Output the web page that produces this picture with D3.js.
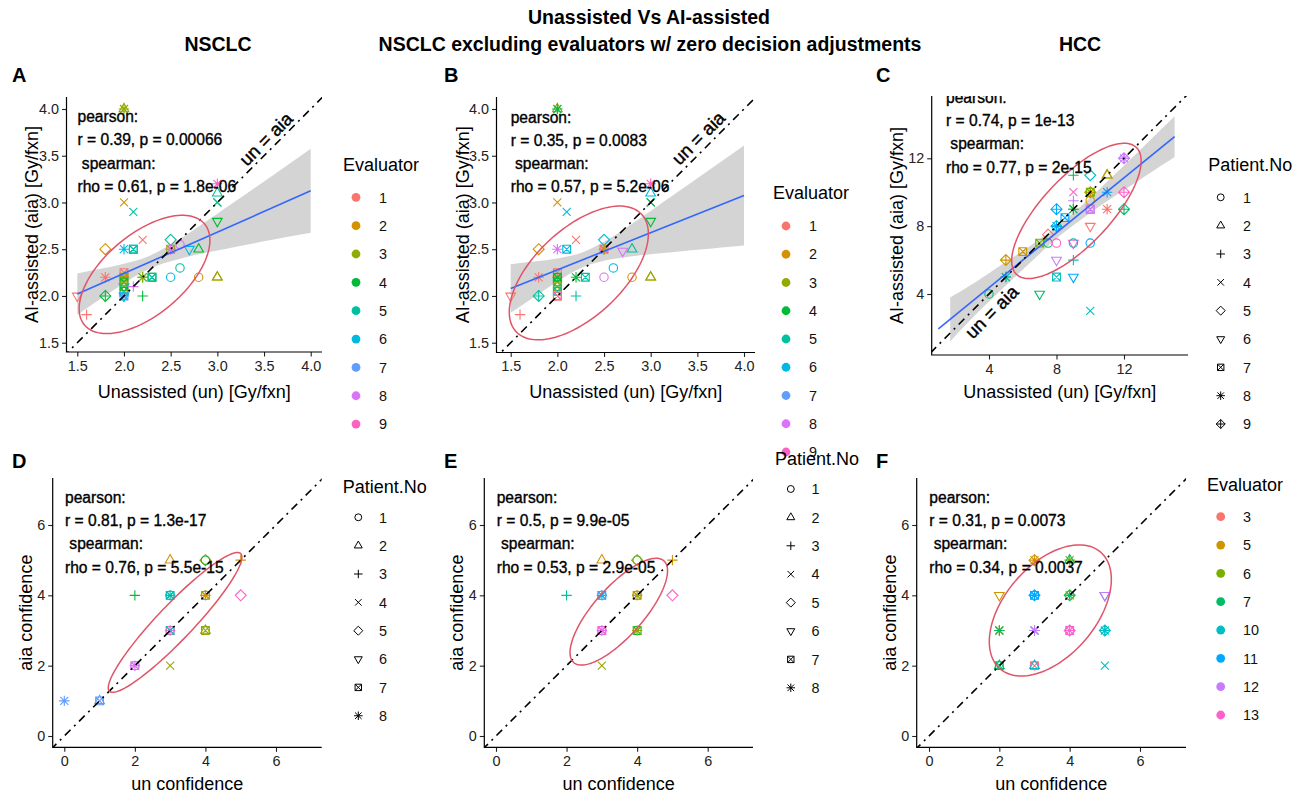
<!DOCTYPE html>
<html>
<head>
<meta charset="utf-8">
<script src="https://cdn.jsdelivr.net/npm/d3@7"></script>
<style>
  body { margin: 0; background: #fff; }
  svg text { font-family: "Liberation Sans", Arial, Helvetica, sans-serif; }
</style>
</head>
<body>
<svg id="chart" width="1298" height="794"></svg>
<script>
// ---- palettes (ggplot hue) ----
const hue9 = ["#F8766D", "#D39200", "#93AA00", "#00BA38", "#00C19F", "#00B9E3", "#619CFF", "#DB72FB", "#FF61C3"];
const hue8 = ["#F8766D", "#CD9600", "#7CAE00", "#00BE67", "#00BFC4", "#00A9FF", "#C77CFF", "#FF61CC"];

// ---- legend levels ----
const evaluatorsNsclc = ["1", "2", "3", "4", "5", "6", "7", "8", "9"];
const evaluatorsHcc = ["3", "5", "6", "7", "10", "11", "12", "13"];
const patientsNsclc = ["1", "2", "3", "4", "5", "6", "7", "8"];
const patientsHcc = ["1", "2", "3", "4", "5", "6", "7", "8", "9"];

// ---- tick values ----
const doseTicks = [1.5, 2.0, 2.5, 3.0, 3.5, 4.0];
const hccTicks = [4, 8, 12];
const confTicks = [0, 2, 4, 6];

// ---- points: [unassisted, AI-assisted, evaluator #, patient #] ----
const ptsA = [
  [2.0,4.0,3,2],[2.0,4.0,3,8],
  [3.0,3.2,9,8],[3.0,3.1,5,2],[3.0,3.0,4,4],[3.0,3.0,5,4],
  [2.0,3.0,2,4],[2.1,2.9,5,4],[3.0,2.8,4,6],[2.2,2.6,1,4],
  [1.8,2.5,2,5],[2.0,2.5,6,8],[2.1,2.5,6,7],[2.1,2.5,5,7],
  [2.5,2.6,5,5],[2.6,2.55,8,1],[2.5,2.5,2,8],[2.5,2.5,3,7],[2.5,2.5,8,8],
  [2.7,2.5,6,6],[2.8,2.5,4,2],[2.6,2.3,5,1],[2.5,2.2,6,1],[2.8,2.2,2,1],
  [3.0,2.2,2,2],[3.0,2.2,3,2],[1.8,2.2,1,8],
  [2.0,2.25,1,7],[2.0,2.2,3,7],[2.0,2.2,3,8],[2.0,2.15,4,7],[2.0,2.1,3,7],[2.0,2.1,5,6],
  [2.0,2.05,4,7],[2.0,2.0,7,8],[2.0,2.0,7,7],[2.0,2.0,6,6],
  [2.2,2.2,4,8],[2.2,2.2,3,8],[2.3,2.2,4,7],[2.3,2.2,5,7],
  [2.1,2.1,8,3],[2.2,2.0,4,3],[1.8,2.0,4,5],[1.8,2.0,4,3],[1.5,2.0,1,6],[1.6,1.8,1,3]
];
const ptsB = [
  [2.0,4.0,3,2],[2.0,4.0,4,8],
  [3.0,3.2,9,8],[3.0,3.1,6,2],[3.0,3.0,5,4],[3.0,3.0,4,4],
  [2.0,3.0,2,4],[2.1,2.9,6,4],[3.0,2.8,4,6],[2.2,2.6,1,4],
  [1.8,2.5,2,5],[2.0,2.5,8,8],[2.1,2.5,6,7],
  [2.5,2.6,6,5],[2.5,2.5,3,8],[2.5,2.5,9,7],[2.5,2.5,2,8],
  [2.7,2.48,8,6],[2.8,2.5,5,2],[2.6,2.3,6,1],[2.5,2.2,8,1],[2.8,2.2,2,1],
  [3.0,2.2,2,2],[3.0,2.2,3,2],[1.8,2.2,1,8],
  [2.0,2.25,1,7],[2.0,2.2,3,8],[2.0,2.2,4,7],[2.0,2.15,4,7],[2.0,2.1,3,7],[2.0,2.05,5,7],
  [2.0,2.0,2,7],[2.0,2.0,9,7],
  [2.2,2.2,4,8],[2.3,2.2,5,7],[2.2,2.0,5,3],[1.8,2.0,5,5],[1.8,2.0,5,3],[1.5,2.0,1,6],[1.6,1.8,1,3]
];
const ptsC = [
  [12,12,7,9],[12,12,7,8],[11,11,3,2],[11,11,2,2],[9,11,4,3],[10,11,5,5],
  [9,10,8,4],[9,9.5,7,3],[10,10,2,8],[10,10,2,9],[10,10,3,7],[10,9.5,2,1],
  [11,10,6,8],[12,10,8,9],[8,9,6,9],[9,9,3,8],[9,9,4,8],[10,9,8,7],[10,9,7,7],[11,9,1,8],[12,9,4,9],
  [8.5,8.5,6,7],[8,8,5,9],[8,8,6,8],[10,8,1,6],[7.5,7.5,1,5],[7,7,3,7],[7.5,7,4,1],[8,7,8,1],
  [9,7,8,6],[9,7,5,1],[10,7,6,1],
  [6,6.5,2,7],[8,6,7,6],[9,6,5,3],[5,6,2,9],[5,5,4,8],[5,5,5,8],[8,5,5,7],[9,5,6,6],
  [4,4,4,1],[7,4,4,6],[10,3,5,4]
];
const ptsD = [
  [3,5,2,2],[4,5,3,5],[4,5,4,1],[5,5,2,3],[2,4,4,3],
  [3,4,5,8],[3,4,5,7],[3,4,6,1],[4,4,2,8],[4,4,2,7],[4,4,3,1],[5,4,9,5],
  [3,3,8,8],[3,3,5,7],[3,3,9,1],[4,3,3,7],[4,3,3,2],
  [2,2,8,8],[2,2,8,7],[2,2,8,1],[3,2,3,4],[0,1,7,8],[1,1,7,2],[1,1,7,7]
];
const ptsE = [
  [3,5,2,2],[4,5,4,1],[4,5,3,5],[5,5,2,3],[2,4,5,3],
  [3,4,6,8],[3,4,6,7],[3,4,7,1],[4,4,2,8],[4,4,3,7],[4,4,2,1],[5,4,9,5],
  [3,3,8,8],[3,3,9,7],[3,3,8,1],[4,3,4,7],[4,3,3,8],[3,2,3,4]
];
const ptsF = [
  [3,5,2,8],[3,5,2,5],[4,5,3,8],[4,5,4,2],[2,4,2,6],
  [3,4,6,8],[3,4,6,9],[3,4,6,7],[4,4,4,8],[4,4,4,9],[4,4,3,1],[5,4,5,6],[5,4,7,6],
  [2,3,2,8],[2,3,4,8],[3,3,4,8],[3,3,7,8],[4,3,8,7],[4,3,7,1],[4,3,8,9],[5,3,5,8],[5,3,5,9],
  [2,2,4,2],[2,2,4,7],[3,2,1,7],[3,2,8,1],[3,2,5,2],[5,2,5,4]
];

// ---- linear fits with confidence band: x, lower, upper ----
const fitA = [[1.5, 2.02], [4.0, 3.125]];
const bandAx = [1.5, 1.75, 2.0, 2.25, 2.5, 2.75, 3.0, 3.5, 4.0];
const bandAlo = [1.80, 1.97, 2.135, 2.28, 2.37, 2.436, 2.487, 2.584, 2.675];
const bandAhi = [2.24, 2.29, 2.345, 2.42, 2.55, 2.709, 2.879, 3.224, 3.575];

const fitB = [[1.5, 2.08], [4.0, 3.075]];
const bandBx = [1.5, 1.75, 2.0, 2.25, 2.5, 2.75, 3.0, 3.5, 4.0];
const bandBlo = [1.82, 1.99, 2.156, 2.297, 2.377, 2.417, 2.445, 2.494, 2.54];
const bandBhi = [2.34, 2.369, 2.402, 2.46, 2.579, 2.739, 2.909, 3.258, 3.61];

const fitC = [[1.0, 1.95], [15.0, 13.28]];
const bandCx = [1.7, 3, 5, 7, 8.4, 10, 12, 15];
const bandClo = [1.2, 2.57, 4.50, 6.37, 7.59, 8.78, 10.13, 12.08];
const bandChi = [3.8, 4.57, 5.88, 7.23, 8.29, 9.68, 11.57, 14.48];

// ---- 95% ellipses: centre x, centre y, semi-major, semi-minor, angle (deg) ----
const ellA = [2.22, 2.23, 0.84, 0.43, 40];
const ellB = [2.23, 2.246, 0.92, 0.47, 43];
const ellC = [9.18, 8.9, 5.16, 2.0, 46.5];
const ellD = [3.14, 3.23, 2.70, 0.5, 46.5];
const ellE = [3.48, 3.535, 1.93, 0.7, 48.5];
const ellF = [3.45, 3.57, 2.19, 1.3, 49.3];

// ---- correlation labels ----
const statsA = ["pearson:", "r = 0.39, p = 0.00066", " spearman:", "rho = 0.61, p = 1.8e-06"];
const statsB = ["pearson:", "r = 0.35, p = 0.0083", " spearman:", "rho = 0.57, p = 5.2e-06"];
const statsC = ["pearson:", "r = 0.74, p = 1e-13", " spearman:", "rho = 0.77, p = 2e-15"];
const statsD = ["pearson:", "r = 0.81, p = 1.3e-17", " spearman:", "rho = 0.76, p = 5.5e-15"];
const statsE = ["pearson:", "r = 0.5, p = 9.9e-05", " spearman:", "rho = 0.53, p = 2.9e-05"];
const statsF = ["pearson:", "r = 0.31, p = 0.0073", " spearman:", "rho = 0.34, p = 0.0037"];

// ---- layout ----
const doseX = "Unassisted (un) [Gy/fxn]", doseY = "AI-assisted (aia) [Gy/fxn]";
const confX = "un confidence", confY = "aia confidence";
const statRows = [0, 23.3, 46.6, 69.9];

const panels = [
  { id: "A", pts: ptsA, pal: hue9, xd: [1.5, 4], xr: [77.3, 310.7], yd: [1.5, 4], yr: [342.7, 109],
    box: [66.5, 97, 322, 352], ticks: doseTicks, fmt: d3.format(".1f"),
    fit: fitA, band: [bandAx, bandAlo, bandAhi], ell: ellA, stats: statsA, statPos: [77.5, 122],
    diagLabel: [3.52, 3.68], xlab: doseX, ylab: doseY, ylabX: 38, xlabDy: 45.5 },
  { id: "B", pts: ptsB, pal: hue9, xd: [1.5, 4], xr: [510.7, 744], yd: [1.5, 4], yr: [342.7, 109],
    box: [496.5, 97, 755, 352.5], ticks: doseTicks, fmt: d3.format(".1f"),
    fit: fitB, band: [bandBx, bandBlo, bandBhi], ell: ellB, stats: statsB, statPos: [510.7, 122.5],
    diagLabel: [3.51, 3.69], xlab: doseX, ylab: doseY, ylabX: 469, xlabDy: 45 },
  { id: "C", pts: ptsC, pal: hue8, xd: [4, 12], xr: [989, 1124], yd: [4, 12], yr: [294, 158.3],
    box: [931.7, 96, 1188, 355], ticks: hccTicks, fmt: d3.format("d"),
    fit: fitC, band: [bandCx, bandClo, bandChi], ell: ellC, stats: statsC, statPos: [946, 102.7],
    diagLabel: [4.16, 2.95], xlab: doseX, ylab: doseY, ylabX: 903, xlabDy: 43 },
  { id: "D", pts: ptsD, pal: hue9, xd: [0, 6], xr: [64.3, 276], yd: [0, 6], yr: [736, 525],
    box: [52.7, 478, 321.7, 747.3], ticks: confTicks, fmt: d3.format("d"),
    ell: ellD, stats: statsD, statPos: [65, 502.7], xlab: confX, ylab: confY, ylabX: 31.5, xlabDy: 42.5 },
  { id: "E", pts: ptsE, pal: hue9, xd: [0, 6], xr: [496, 707.7], yd: [0, 6], yr: [736, 525],
    box: [484.3, 478, 753, 747.3], ticks: confTicks, fmt: d3.format("d"),
    ell: ellE, stats: statsE, statPos: [496.7, 502.7], xlab: confX, ylab: confY, ylabX: 463, xlabDy: 42.5 },
  { id: "F", pts: ptsF, pal: hue8, xd: [0, 6], xr: [929, 1140], yd: [0, 6], yr: [736, 525],
    box: [916.7, 478, 1186, 747.3], ticks: confTicks, fmt: d3.format("d"),
    ell: ellF, stats: statsF, statPos: [929.3, 502.7], xlab: confX, ylab: confY, ylabX: 896, xlabDy: 42.5 }
];

const legends = [
  { kind: "color", title: "Evaluator", labels: evaluatorsNsclc, pal: hue9, tx: 343, ty: 171.4, y0: 197.3, dy: 28.35, kx: 356, lx: 379 },
  { kind: "color", title: "Evaluator", labels: evaluatorsNsclc, pal: hue9, tx: 773, ty: 199.4, y0: 226, dy: 28.25, kx: 786, lx: 809 },
  { kind: "shape", title: "Patient.No", labels: patientsHcc, tx: 1208.3, ty: 171.4, y0: 197.3, dy: 28.34, kx: 1220.7, lx: 1243 },
  { kind: "shape", title: "Patient.No", labels: patientsNsclc, tx: 342.7, ty: 493, y0: 517.3, dy: 28.35, kx: 358.3, lx: 379 },
  { kind: "shape", title: "Patient.No", labels: patientsNsclc, tx: 775, ty: 464.5, y0: 489, dy: 28.4, kx: 790.8, lx: 811.5 },
  { kind: "color", title: "Evaluator", labels: evaluatorsHcc, pal: hue8, tx: 1207, ty: 491.4, y0: 516.7, dy: 28.33, kx: 1220.7, lx: 1243 }
];

const svg = d3.select("#chart");
const defs = svg.append("defs");

// ggplot-style open point shapes 1..9
function shapePath(k, s) {
  const r = 4.2 * s, t = 5.6 * s, p = 5.2 * s, q = 4.0 * s, d = 5.5 * s, sq = 3.9 * s;
  const circle = `M${-r},0A${r},${r} 0 1,0 ${r},0A${r},${r} 0 1,0 ${-r},0Z`;
  const plus = `M${-p},0H${p}M0,${-p}V${p}`;
  const cross = `M${-q},${-q}L${q},${q}M${-q},${q}L${q},${-q}`;
  const diamond = `M0,${-d}L${d},0L0,${d}L${-d},0Z`;
  switch (k) {
    case 1: return circle;
    case 2: return `M0,${-t}L${t * 0.866},${t * 0.5}L${-t * 0.866},${t * 0.5}Z`;
    case 3: return plus;
    case 4: return cross;
    case 5: return diamond;
    case 6: return `M0,${t}L${t * 0.866},${-t * 0.5}L${-t * 0.866},${-t * 0.5}Z`;
    case 7: return `M${-sq},${-sq}H${sq}V${sq}H${-sq}Z` + `M${-sq},${-sq}L${sq},${sq}M${-sq},${sq}L${sq},${-sq}`;
    case 8: return plus + cross;
    case 9: return diamond + `M${-d},0H${d}M0,${-d}V${d}`;
  }
}

function ellipsePoints(e) {
  const [cx, cy, a, b, deg] = e;
  const th = deg * Math.PI / 180;
  return d3.range(0, 361, 3).map(k => {
    const t = k * Math.PI / 180;
    return [cx + a * Math.cos(t) * Math.cos(th) - b * Math.sin(t) * Math.sin(th),
            cy + a * Math.cos(t) * Math.sin(th) + b * Math.sin(t) * Math.cos(th)];
  });
}

function drawPanel(p) {
  const x = d3.scaleLinear().domain(p.xd).range(p.xr);
  const y = d3.scaleLinear().domain(p.yd).range(p.yr);
  const [L, T, R, B] = p.box;
  const g = svg.append("g").attr("class", "panel-" + p.id);

  defs.append("clipPath").attr("id", "clip" + p.id)
    .append("rect").attr("x", L).attr("y", T).attr("width", R - L).attr("height", B - T);
  const inner = g.append("g").attr("clip-path", `url(#clip${p.id})`);

  // confidence band
  if (p.band) {
    const [bx, lo, hi] = p.band;
    const rows = bx.map((v, i) => ({ x: v, lo: lo[i], hi: hi[i] }));
    inner.append("path").datum(rows)
      .attr("d", d3.area().x(d => x(d.x)).y0(d => y(d.lo)).y1(d => y(d.hi)).curve(d3.curveNatural))
      .attr("fill", "#d4d4d4");
  }

  // points
  inner.append("g").selectAll("path").data(p.pts).join("path")
    .attr("transform", d => `translate(${x(d[0])},${y(d[1])})`)
    .attr("d", d => shapePath(d[3], 1))
    .attr("fill", "none")
    .attr("stroke", d => p.pal[d[2] - 1])
    .attr("stroke-width", 1.1);

  // fitted line
  if (p.fit) {
    inner.append("path").datum(p.fit)
      .attr("d", d3.line().x(d => x(d[0])).y(d => y(d[1])))
      .attr("fill", "none").attr("stroke", "#3366FF").attr("stroke-width", 1.6);
  }

  // identity line un = aia
  const lo = Math.min(x.invert(L), y.invert(B)) - 1, hi = Math.max(x.invert(R), y.invert(T)) + 1;
  inner.append("line")
    .attr("x1", x(lo)).attr("y1", y(lo)).attr("x2", x(hi)).attr("y2", y(hi))
    .attr("stroke", "#000").attr("stroke-width", 1.6).attr("stroke-dasharray", "2,5,8,5");

  // ellipse
  inner.append("path").datum(ellipsePoints(p.ell))
    .attr("d", d3.line().x(d => x(d[0])).y(d => y(d[1])).curve(d3.curveLinearClosed))
    .attr("fill", "none").attr("stroke", "#E05468").attr("stroke-width", 1.5);

  // correlation text
  inner.append("g").selectAll("text").data(p.stats).join("text")
    .attr("x", p.statPos[0]).attr("y", (d, i) => p.statPos[1] + statRows[i])
    .style("white-space", "pre")
    .attr("font-size", 15.6).attr("fill", "#000")
    .attr("stroke", "#000").attr("stroke-width", 0.35)
    .text(d => d);

  if (p.diagLabel) {
    inner.append("text")
      .attr("transform", `translate(${x(p.diagLabel[0])},${y(p.diagLabel[1])}) rotate(-45)`)
      .attr("text-anchor", "middle").attr("dy", "0.35em")
      .attr("font-size", 18.5).attr("fill", "#000")
      .attr("stroke", "#000").attr("stroke-width", 0.4)
      .text("un = aia");
  }

  // axes
  const ax = g.append("g").attr("transform", `translate(0,${B})`)
    .call(d3.axisBottom(x).tickValues(p.ticks).tickFormat(p.fmt).tickSize(4.5).tickPadding(4));
  const ay = g.append("g").attr("transform", `translate(${L},0)`)
    .call(d3.axisLeft(y).tickValues(p.ticks).tickFormat(p.fmt).tickSize(4.5).tickPadding(3));
  [ax, ay].forEach(a => {
    a.select(".domain").remove();
    a.selectAll("line").attr("stroke", "#222").attr("stroke-width", 1.1);
    a.selectAll("text").attr("font-size", 14.4).attr("fill", "#222")
      .style("font-family", '"Liberation Sans", Arial, sans-serif');
  });
  g.append("path")
    .attr("d", `M${L},${T}V${B}H${R}`)
    .attr("fill", "none").attr("stroke", "#000").attr("stroke-width", 1.2);

  // axis titles
  g.append("text").attr("x", (L + R) / 2).attr("y", B + p.xlabDy)
    .attr("text-anchor", "middle").attr("font-size", 18).attr("fill", "#000").text(p.xlab);
  g.append("text").attr("transform", `translate(${p.ylabX},${(T + B) / 2}) rotate(-90)`)
    .attr("text-anchor", "middle").attr("font-size", 18).attr("fill", "#000").text(p.ylab);
}

panels.forEach(drawPanel);

// legends
legends.forEach(lg => {
  const g = svg.append("g");
  g.append("text").attr("x", lg.tx).attr("y", lg.ty).attr("font-size", 18).attr("fill", "#000").text(lg.title);
  const items = g.selectAll("g.item").data(lg.labels).join("g")
    .attr("transform", (d, i) => `translate(0,${lg.y0 + i * lg.dy})`);
  if (lg.kind === "color") {
    items.append("circle").attr("cx", lg.kx).attr("cy", 0).attr("r", 4.4)
      .attr("fill", (d, i) => lg.pal[i]);
  } else {
    items.append("path").attr("transform", `translate(${lg.kx},0)`)
      .attr("d", (d, i) => shapePath(i + 1, 0.82))
      .attr("fill", "none").attr("stroke", "#000").attr("stroke-width", 1);
  }
  items.append("text").attr("x", lg.lx).attr("y", 5.2).attr("font-size", 14.4).attr("fill", "#111").text(d => d);
});

// titles and panel tags
const titleLines = [
  { t: "Unassisted Vs AI-assisted", x: 649, y: 23.5 },
  { t: "NSCLC excluding evaluators w/ zero decision adjustments", x: 650, y: 50.5 },
  { t: "NSCLC", x: 218, y: 50.5 },
  { t: "HCC", x: 1080, y: 50.5 }
];
svg.append("g").selectAll("text").data(titleLines).join("text")
  .attr("x", d => d.x).attr("y", d => d.y).attr("text-anchor", "middle")
  .attr("font-size", 19.5).attr("font-weight", "bold").attr("fill", "#000").text(d => d.t);

const tags = [
  { t: "A", x: 12, y: 82 }, { t: "B", x: 444, y: 82 }, { t: "C", x: 876, y: 82 },
  { t: "D", x: 12, y: 468 }, { t: "E", x: 444, y: 468 }, { t: "F", x: 876, y: 468 }
];
svg.append("g").selectAll("text").data(tags).join("text")
  .attr("x", d => d.x).attr("y", d => d.y)
  .attr("font-size", 20).attr("font-weight", "bold").attr("fill", "#000").text(d => d.t);
</script>
</body>
</html>
